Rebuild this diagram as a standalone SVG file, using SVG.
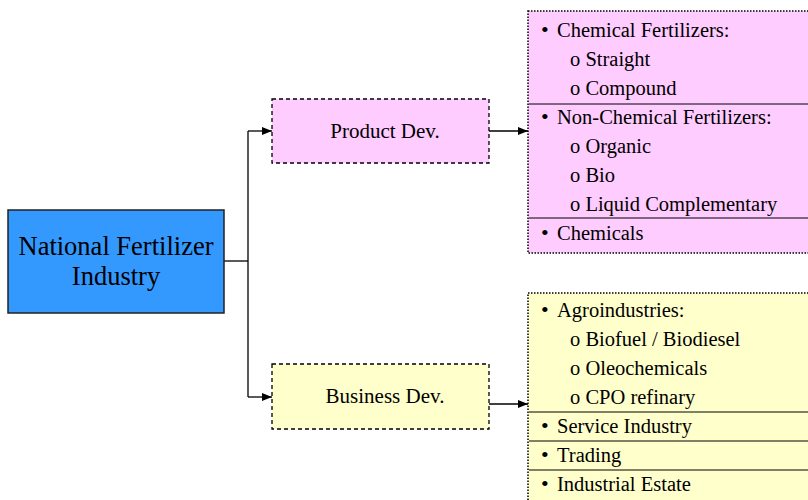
<svg xmlns="http://www.w3.org/2000/svg" width="808" height="500" viewBox="0 0 808 500">
<defs>
<marker id="ah" markerWidth="10" markerHeight="8" refX="10" refY="4" orient="auto" markerUnits="userSpaceOnUse">
<path d="M0,0 L10,4 L0,8 Z" fill="#000"/>
</marker>
<style>
text{font-family:"Liberation Serif","DejaVu Serif",serif;fill:#000}
.t{font-size:20.5px}
.b{font-size:22px}
.m{font-size:26.5px;text-anchor:middle}
.c{font-size:21px;text-anchor:middle}
.dash{stroke:#000;stroke-width:1.3;stroke-dasharray:4,3}
.dot{stroke:#000;stroke-width:1.5;stroke-dasharray:1.5,1.5}
.sep{stroke:#000;stroke-width:1}
.con{fill:none;stroke:#000;stroke-width:1.3}
</style>
</defs>
<rect width="808" height="500" fill="#fff"/>
<g id="connectors">
<path class="con" d="M224,261 H248"/>
<path class="con" d="M248,131 V397"/>
<path class="con" d="M248,131 H272" marker-end="url(#ah)"/>
<path class="con" d="M248,397 H272" marker-end="url(#ah)"/>
<path class="con" d="M489,131 H528" marker-end="url(#ah)"/>
<path class="con" d="M489,404 H528" marker-end="url(#ah)"/>
</g>
<g id="national">
<rect x="8" y="210" width="216" height="103" fill="#3399ff" stroke="#222" stroke-width="1.5"/>
<text class="m" x="116" y="255">National Fertilizer</text>
<text class="m" x="116" y="285">Industry</text>
</g>
<g id="product">
<rect class="dash" x="272" y="99" width="217" height="64" fill="#ffccff"/>
<text class="c" x="385" y="138">Product Dev.</text>
</g>
<g id="business">
<rect class="dash" x="272" y="364" width="217" height="65" fill="#ffffcc"/>
<text class="c" x="385" y="403">Business Dev.</text>
</g>
<g id="product-list">
<rect class="dot" x="528" y="11" width="282" height="242" fill="#ffccff"/>
<line class="sep" x1="529" y1="104" x2="808" y2="104"/>
<line class="sep" x1="529" y1="218" x2="808" y2="218"/>
<text class="b" x="541" y="37">•</text>
<text class="t" x="557" y="37">Chemical Fertilizers:</text>
<text class="t" x="570" y="66">o Straight</text>
<text class="t" x="570" y="95">o Compound</text>
<text class="b" x="541" y="124">•</text>
<text class="t" x="557" y="124">Non-Chemical Fertilizers:</text>
<text class="t" x="570" y="153">o Organic</text>
<text class="t" x="570" y="182">o Bio</text>
<text class="t" x="570" y="211">o Liquid Complementary</text>
<text class="b" x="541" y="240">•</text>
<text class="t" x="557" y="240">Chemicals</text>
</g>
<g id="business-list">
<rect class="dot" x="528" y="293" width="282" height="210" fill="#ffffcc"/>
<line class="sep" x1="529" y1="412" x2="808" y2="412"/>
<line class="sep" x1="529" y1="441" x2="808" y2="441"/>
<line class="sep" x1="529" y1="470" x2="808" y2="470"/>
<text class="b" x="541" y="317">•</text>
<text class="t" x="557" y="317">Agroindustries:</text>
<text class="t" x="570" y="346">o Biofuel / Biodiesel</text>
<text class="t" x="570" y="375">o Oleochemicals</text>
<text class="t" x="570" y="404">o CPO refinary</text>
<text class="b" x="541" y="433">•</text>
<text class="t" x="557" y="433">Service Industry</text>
<text class="b" x="541" y="462">•</text>
<text class="t" x="557" y="462">Trading</text>
<text class="b" x="541" y="491">•</text>
<text class="t" x="557" y="491">Industrial Estate</text>
</g>
</svg>
